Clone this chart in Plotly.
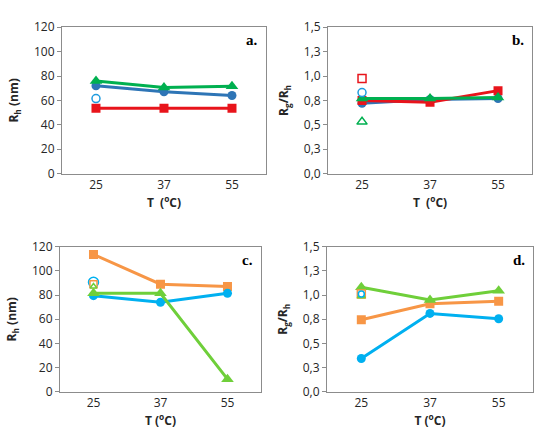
import plotly.graph_objects as go

temps = ["25", "37", "55"]

# panel a: Rh (nm)
a_blue = [72, 67, 64]
a_green = [76, 70.5, 71.5]
a_red = [53.5, 53.5, 53.5]
a_blue_open = [61.5]

# panel b: Rg/Rh
b_blue = [0.72, 0.76, 0.77]
b_red = [0.75, 0.73, 0.85]
b_green = [0.77, 0.77, 0.78]
b_red_open = [0.975]
b_blue_open = [0.83]
b_green_open = [0.53]

# panel c: Rh (nm)
c_orange = [113.5, 89, 87]
c_blue = [79.5, 74, 81.5]
c_green = [81.5, 81.5, 10.5]
c_blue_open = [90.5]
c_orange_open = [89]
c_green_open = [87]

# panel d: Rg/Rh
d_green = [1.08, 0.95, 1.045]
d_orange = [0.745, 0.91, 0.935]
d_blue = [0.345, 0.81, 0.755]
d_blue_open = [1.01]
d_orange_open = [1.01]
d_green_open = [0.99]

ratio_ticks = [0, 0.25, 0.5, 0.75, 1.0, 1.25, 1.5]
ratio_labels = ["0,0", "0,3", "0,5", "0,8", "1,0", "1,3", "1,5"]
rh_ticks = [0, 20, 40, 60, 80, 100, 120]

BLUE = "#2E75B6"
GREEN = "#00B050"
RED = "#E8141B"
LBLUE = "#00B0F0"
ORANGE = "#F79646"
LGREEN = "#6FCF3A"

fig = go.Figure()


def line(xa, ya, y, color, symbol, size=9):
    fig.add_trace(go.Scatter(
        x=temps, y=y, xaxis=xa, yaxis=ya, mode="lines+markers",
        line=dict(color=color, width=3),
        marker=dict(color=color, symbol=symbol, size=size),
        showlegend=False))


def open_pt(xa, ya, y, color, symbol, size=8):
    fig.add_trace(go.Scatter(
        x=temps[:1], y=y, xaxis=xa, yaxis=ya, mode="markers",
        marker=dict(color="white", symbol=symbol, size=size,
                    line=dict(color=color, width=1.5)),
        showlegend=False))


line("x", "y", a_red, RED, "square")
line("x", "y", a_blue, BLUE, "circle")
line("x", "y", a_green, GREEN, "triangle-up", 11)
open_pt("x", "y", a_blue_open, "#1F9BDE", "circle")

line("x2", "y2", b_blue, BLUE, "circle")
line("x2", "y2", b_red, RED, "square")
line("x2", "y2", b_green, GREEN, "triangle-up", 11)
open_pt("x2", "y2", b_red_open, RED, "square")
open_pt("x2", "y2", b_blue_open, "#1F9BDE", "circle")
open_pt("x2", "y2", b_green_open, GREEN, "triangle-up", 9)

line("x3", "y3", c_orange, ORANGE, "square")
line("x3", "y3", c_blue, LBLUE, "circle")
line("x3", "y3", c_green, LGREEN, "triangle-up", 11)
open_pt("x3", "y3", c_blue_open, LBLUE, "circle", 10)
open_pt("x3", "y3", c_orange_open, ORANGE, "square", 7)
open_pt("x3", "y3", c_green_open, LGREEN, "triangle-up", 6)

line("x4", "y4", d_blue, LBLUE, "circle")
line("x4", "y4", d_orange, ORANGE, "square")
line("x4", "y4", d_green, LGREEN, "triangle-up", 11)
open_pt("x4", "y4", d_orange_open, ORANGE, "square", 8)
open_pt("x4", "y4", d_green_open, LGREEN, "triangle-up", 7)
open_pt("x4", "y4", d_blue_open, LBLUE, "circle", 6)

tick_font = dict(family="Open Sans", size=12, color="#262626")
title_font = dict(family="Open Sans", size=12, color="#262626")
axis_common = dict(showline=True, mirror=True, linecolor="#8C8C8C",
                   linewidth=1, showgrid=False, zeroline=False,
                   tickfont=tick_font)

domains = {
    "": ([0.1127, 0.4836], [0.6183, 0.9576]),
    "2": ([0.5964, 0.9673], [0.6183, 0.9576]),
    "3": ([0.1091, 0.4745], [0.1116, 0.4487]),
    "4": ([0.5945, 0.9691], [0.1116, 0.4487]),
}
xtitle = {"": "<b>T  (<sup>o</sup>C)</b>", "2": "<b>T  (<sup>o</sup>C)</b>",
          "3": "<b>T (<sup>o</sup>C)</b>", "4": "<b>T (<sup>o</sup>C)</b>"}
letters = {"": "a.", "2": "b.", "3": "c.", "4": "d."}

layout = dict(width=550, height=448, margin=dict(l=0, r=0, t=0, b=0),
              paper_bgcolor="white", plot_bgcolor="white")
annotations = []
for k, (dx, dy) in domains.items():
    ratio = k in ("2", "4")
    layout["xaxis" + k] = dict(
        axis_common, domain=dx, anchor="y" + k, type="category",
        range=[-0.5, 2.5], ticks="",
        title=dict(text=xtitle[k], font=title_font, standoff=6))
    if ratio:
        ydict = dict(range=[0, 1.5], tickvals=ratio_ticks, ticktext=ratio_labels,
                     title=dict(text="<b>R<sub>g</sub>/R<sub>h</sub></b>",
                                font=title_font, standoff=12))
    else:
        ydict = dict(range=[0, 120], tickvals=rh_ticks,
                     title=dict(text="<b>R<sub>h</sub> (nm)</b>",
                                font=title_font, standoff=12))
    layout["yaxis" + k] = dict(axis_common, domain=dy, anchor="x" + k,
                               ticks="outside", ticklen=4, tickcolor="#8C8C8C",
                               **ydict)
    annotations.append(dict(
        text="<b>" + letters[k] + "</b>", xref="x" + k + " domain",
        yref="y" + k + " domain", x=0.97, y=0.91, xanchor="right",
        yanchor="middle", showarrow=False,
        font=dict(family="Liberation Serif", size=15, color="black")))

layout["annotations"] = annotations
fig.update_layout(**layout)
fig.write_html("out.html", config={"displayModeBar": False},
               post_script="document.body.style.margin='0';")
